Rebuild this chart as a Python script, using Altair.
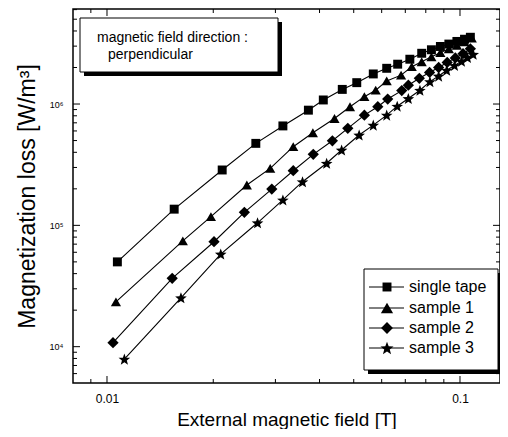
import math
import altair as alt
import pandas as pd

# ---------------- data ----------------
series_names = ["single tape", "sample 1", "sample 2", "sample 3"]

x_single = [0.0107, 0.0155, 0.0212, 0.0264, 0.0315, 0.0372, 0.0410, 0.0464, 0.0510, 0.0568,
            0.0620, 0.0666, 0.0721, 0.0779, 0.0830, 0.0880, 0.0930, 0.0980, 0.1030, 0.1070]
y_single = [5.0e4, 1.36e5, 2.86e5, 4.74e5, 6.6e5, 8.9e5, 1.08e6, 1.32e6, 1.50e6, 1.77e6,
            1.97e6, 2.13e6, 2.34e6, 2.62e6, 2.80e6, 2.98e6, 3.12e6, 3.28e6, 3.42e6, 3.55e6]

x_s1 = [0.0106, 0.0164, 0.0197, 0.0249, 0.0290, 0.0337, 0.0383, 0.0441, 0.0488, 0.0536, 0.0577,
        0.0620, 0.0681, 0.0730, 0.0779, 0.0830, 0.0880, 0.0930, 0.0980, 0.1030, 0.1080]
y_s1 = [2.34e4, 7.46e4, 1.18e5, 2.15e5, 2.95e5, 4.45e5, 5.8e5, 7.6e5, 9.5e5, 1.15e6, 1.30e6,
        1.55e6, 1.73e6, 2.03e6, 2.23e6, 2.45e6, 2.65e6, 2.85e6, 3.05e6, 3.25e6, 3.50e6]

x_s2 = [0.0104, 0.0153, 0.0201, 0.0245, 0.0293, 0.0337, 0.0384, 0.0435, 0.0481, 0.0536, 0.0585,
        0.0624, 0.0684, 0.0714, 0.0767, 0.0820, 0.0870, 0.0920, 0.0970, 0.1020, 0.1070]
y_s2 = [1.08e4, 3.66e4, 7.33e4, 1.28e5, 1.99e5, 2.82e5, 3.85e5, 4.98e5, 6.3e5, 8.1e5, 9.5e5,
        1.10e6, 1.29e6, 1.43e6, 1.63e6, 1.82e6, 2.00e6, 2.20e6, 2.40e6, 2.60e6, 2.85e6]

x_s3 = [0.0112, 0.0162, 0.0210, 0.0267, 0.0315, 0.0358, 0.0419, 0.0462, 0.0518, 0.0568, 0.0620,
        0.0664, 0.0714, 0.0770, 0.0822, 0.0870, 0.0917, 0.0965, 0.1010, 0.1050, 0.1090]
y_s3 = [7.9e3, 2.53e4, 5.8e4, 1.05e5, 1.62e5, 2.29e5, 3.25e5, 4.18e5, 5.55e5, 6.7e5, 8.1e5,
        9.6e5, 1.11e6, 1.30e6, 1.53e6, 1.70e6, 1.90e6, 2.08e6, 2.25e6, 2.42e6, 2.57e6]

x_major_ticks = [0.01, 0.1]
x_minor_ticks = [0.009, 0.02, 0.03, 0.04, 0.05, 0.06, 0.07, 0.08, 0.09]
y_major_ticks = [1e4, 1e5, 1e6]
y_minor_ticks = [6e3, 7e3, 8e3, 9e3, 2e4, 3e4, 4e4, 5e4, 6e4, 7e4, 8e4, 9e4,
                 2e5, 3e5, 4e5, 5e5, 6e5, 7e5, 8e5, 9e5, 2e6, 3e6, 4e6, 5e6, 6e6]

annotation_lines = ["magnetic field direction :", "perpendicular"]

# ---------------- build table ----------------
rows = []
for name, xs, ys in [(series_names[0], x_single, y_single), (series_names[1], x_s1, y_s1),
                     (series_names[2], x_s2, y_s2), (series_names[3], x_s3, y_s3)]:
    for a, b in zip(xs, ys):
        rows.append({"series": name, "field": a, "loss": b})
df = pd.DataFrame(rows)

pts = []
for i in range(10):
    r = 1.0 if i % 2 == 0 else 0.42
    a = -math.pi / 2 + i * math.pi / 5
    pts.append(f"{r*math.cos(a):.3f},{r*math.sin(a)+0.1:.3f}")
STAR = "M" + "L".join(pts) + "Z"

shapes = ["square", "triangle-up", "diamond", STAR]
sizes = [80, 150, 140, 190]

W, H = 427, 374
FONT = "Liberation Sans, Arial, sans-serif"

xs = alt.Scale(type="log", domain=[0.008011, 0.12982], nice=False)
ys = alt.Scale(type="log", domain=[5020, 6.07e6], nice=False)

base = alt.Chart(df)

lines = base.mark_line(color="black", strokeWidth=1.1).encode(
    x=alt.X("field:Q", scale=xs,
            axis=alt.Axis(values=x_major_ticks, labelExpr="datum.value < 0.05 ? '0.01' : '0.1'",
                          title="External magnetic field [T]", ticks=False, domain=False, grid=False,
                          labelFontSize=12, labelPadding=10, labelFont=FONT, labelColor="black",
                          titleFont=FONT, titleFontSize=19, titleFontWeight="normal",
                          titlePadding=6, titleColor="black", labelFlush=False)),
    y=alt.Y("loss:Q", scale=ys,
            axis=alt.Axis(values=y_major_ticks,
                          labelExpr="datum.value > 5e5 ? '10⁶' : (datum.value > 5e4 ? '10⁵' : '10⁴')",
                          title="Magnetization loss [W/m³]", ticks=False, domain=False, grid=False,
                          labelFontSize=9, labelPadding=10, labelFont=FONT, labelColor="black",
                          titleFont=FONT, titleFontSize=23, titleFontWeight="normal",
                          titlePadding=10, titleColor="black", labelFlush=False)),
    detail="series:N",
)

points = base.mark_point(filled=True, opacity=1, color="black", strokeWidth=0).encode(
    x=alt.X("field:Q", scale=xs),
    y=alt.Y("loss:Q", scale=ys),
    shape=alt.Shape("series:N", scale=alt.Scale(domain=series_names, range=shapes), legend=None),
    size=alt.Size("series:N", scale=alt.Scale(domain=series_names, range=sizes), legend=None),
)

# inward ticks
xt_major = pd.DataFrame({"v": x_major_ticks})
xt_minor = pd.DataFrame({"v": x_minor_ticks})
yt_major = pd.DataFrame({"v": y_major_ticks})
yt_minor = pd.DataFrame({"v": y_minor_ticks})

tick_layers = []
for d, L in [(xt_major, 7), (xt_minor, 4)]:
    tick_layers.append(alt.Chart(d).mark_rule(color="black", strokeWidth=1, clip=True).encode(
        x=alt.X("v:Q", scale=xs), y=alt.value(H), y2=alt.value(H - L)))
    tick_layers.append(alt.Chart(d).mark_rule(color="black", strokeWidth=1, clip=True).encode(
        x=alt.X("v:Q", scale=xs), y=alt.value(0), y2=alt.value(L)))
for d, L in [(yt_major, 7), (yt_minor, 4)]:
    tick_layers.append(alt.Chart(d).mark_rule(color="black", strokeWidth=1, clip=True).encode(
        y=alt.Y("v:Q", scale=ys), x=alt.value(0), x2=alt.value(L)))
    tick_layers.append(alt.Chart(d).mark_rule(color="black", strokeWidth=1, clip=True).encode(
        y=alt.Y("v:Q", scale=ys), x=alt.value(W), x2=alt.value(W - L)))

deco = []
# annotation box with shadow
deco.append(alt.Chart().mark_rect(color="black").encode(
    x=alt.value(11), x2=alt.value(209), y=alt.value(13), y2=alt.value(67)))
deco.append(alt.Chart().mark_rect(fill="white", stroke="black", strokeWidth=1).encode(
    x=alt.value(7), x2=alt.value(205), y=alt.value(9), y2=alt.value(63)))
deco.append(alt.Chart().mark_text(text=annotation_lines[0], align="left", baseline="middle",
                                  font=FONT, fontSize=14, color="black").encode(
    x=alt.value(24), y=alt.value(29)))
deco.append(alt.Chart().mark_text(text=annotation_lines[1], align="left", baseline="middle",
                                  font=FONT, fontSize=14, color="black").encode(
    x=alt.value(35), y=alt.value(46)))

# legend box with shadow
LX0, LX1, LY0, LY1 = 291, 425, 260, 361
deco.append(alt.Chart().mark_rect(color="black").encode(
    x=alt.value(LX0 + 4), x2=alt.value(LX1 + 4), y=alt.value(LY0 + 4), y2=alt.value(LY1 + 4)))
deco.append(alt.Chart().mark_rect(fill="white", stroke="black", strokeWidth=1).encode(
    x=alt.value(LX0), x2=alt.value(LX1), y=alt.value(LY0), y2=alt.value(LY1)))
row_y = [278, 299, 319, 339]
for name, shp, sz, ry in zip(series_names, shapes, sizes, row_y):
    deco.append(alt.Chart().mark_rule(color="black", strokeWidth=1).encode(
        x=alt.value(LX0 + 5), x2=alt.value(LX0 + 40), y=alt.value(ry)))
    deco.append(alt.Chart().mark_point(shape=shp, size=sz, filled=True, opacity=1,
                                       color="black", strokeWidth=0).encode(
        x=alt.value(LX0 + 23), y=alt.value(ry)))
    deco.append(alt.Chart().mark_text(text=name, align="left", baseline="middle",
                                      font=FONT, fontSize=16, color="black").encode(
        x=alt.value(LX0 + 45), y=alt.value(ry)))

chart = alt.layer(lines, points, *tick_layers, *deco).properties(
    width=W, height=H,
    autosize=alt.AutoSizeParams(type="none"),
    padding={"left": 65, "top": 1, "right": 0, "bottom": 46},
    background="white",
).configure_view(stroke="black", strokeWidth=1.5)

chart.save("out.html", embed_options={"renderer": "svg", "actions": False})
